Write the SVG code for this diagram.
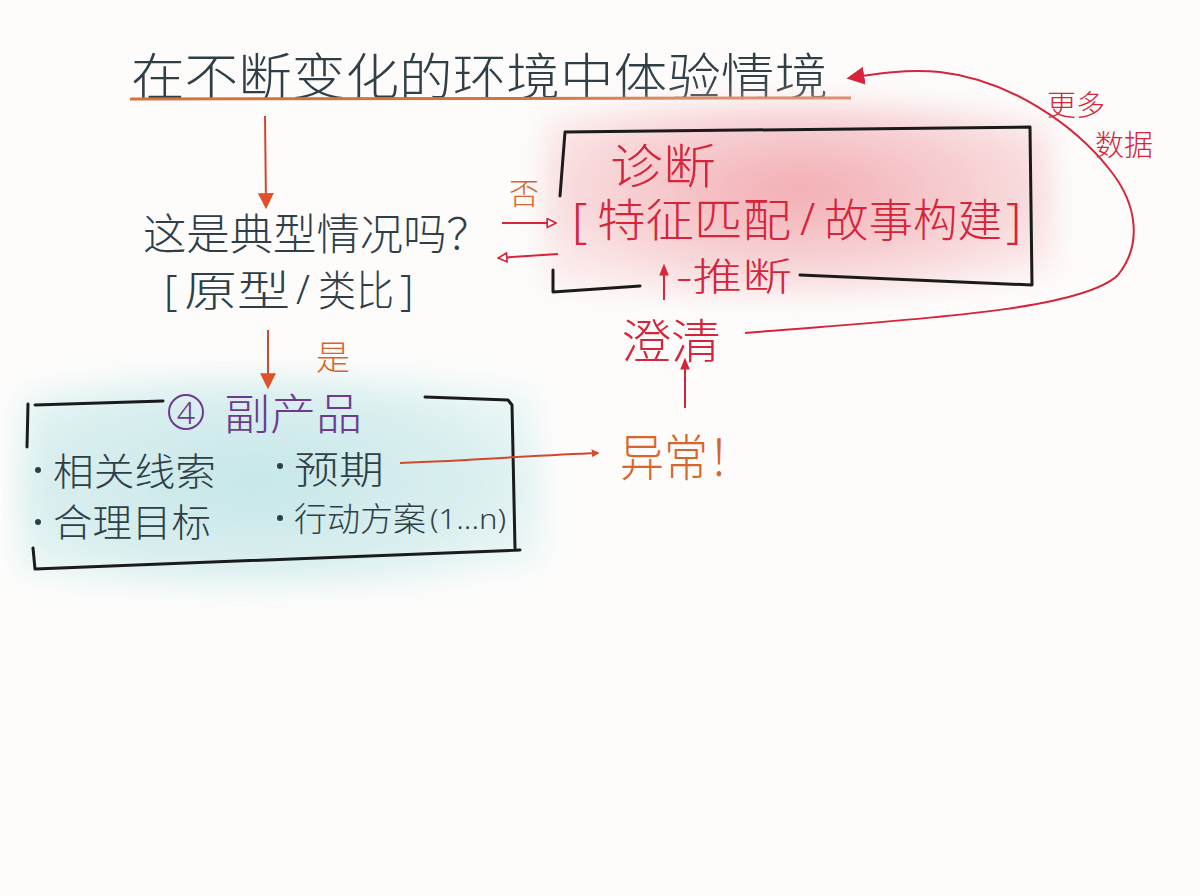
<svg xmlns="http://www.w3.org/2000/svg" width="1200" height="896" viewBox="0 0 1200 896">
<defs>
<style>
.t{font-family:"Noto Sans CJK SC","Noto Sans",sans-serif;font-weight:300}
.b{font-family:"Noto Sans","Liberation Sans",sans-serif;font-weight:300}
.slate{fill:#2e3f47}
.red{fill:#d6243a}
.org{fill:#d8652c}
.pur{fill:#6c3b90}
.ink{fill:none;stroke:#1b1b1b;stroke-width:3;stroke-linecap:round;stroke-linejoin:round}
.ar{fill:none;stroke:#d2482f;stroke-width:2}
.arr{fill:none;stroke:#d6243a;stroke-width:2}
</style>
<marker id="mh" viewBox="0 0 10 10" refX="8" refY="5" markerWidth="8" markerHeight="8" orient="auto" markerUnits="userSpaceOnUse">
<path d="M0,0 L10,5 L0,10 z" fill="#d84a2a"/>
</marker>
<marker id="mbig" viewBox="0 0 10 10" refX="8" refY="5" markerWidth="16" markerHeight="16" orient="auto" markerUnits="userSpaceOnUse">
<path d="M0,0 L10,5 L0,10 z" fill="#e0512a"/>
</marker>
<marker id="mred" viewBox="0 0 10 10" refX="8" refY="5" markerWidth="12" markerHeight="12" orient="auto" markerUnits="userSpaceOnUse">
<path d="M0,1 L10,5 L0,9 z" fill="#d6243a"/>
</marker>
<marker id="mopen" viewBox="0 0 10 10" refX="9" refY="5" markerWidth="11" markerHeight="11" orient="auto" markerUnits="userSpaceOnUse">
<path d="M1,1 L9,5 L1,9 z" fill="#fff" stroke="#d6243a" stroke-width="1.5"/>
</marker>
<marker id="mbig2" viewBox="0 0 10 10" refX="8" refY="5" markerWidth="18" markerHeight="18" orient="auto" markerUnits="userSpaceOnUse">
<path d="M0,0 L10,5 L0,10 z" fill="#d6243a"/>
</marker>
<filter id="blur" x="-20%" y="-20%" width="140%" height="140%"><feGaussianBlur stdDeviation="14"/></filter>
<radialGradient id="pink" cx="0.5" cy="0.45" r="0.6">
<stop offset="0" stop-color="#f2a4ab"/><stop offset="0.6" stop-color="#f7cdd0"/><stop offset="1" stop-color="#fbe9ea"/>
</radialGradient>
<radialGradient id="teal" cx="0.45" cy="0.5" r="0.6">
<stop offset="0" stop-color="#c4e6e8"/><stop offset="0.7" stop-color="#d9efef"/><stop offset="1" stop-color="#eaf6f6"/>
</radialGradient>
</defs>
<rect width="1200" height="896" fill="#fdfcfb"/>

<g id="title">
<text class="t slate" x="131" y="95" font-size="50" textLength="697" lengthAdjust="spacingAndGlyphs">在不断变化的环境中体验情境</text>
<path d="M130,99 L851,98" stroke="#d5733f" stroke-width="3" fill="none"/>
</g>

<g id="question">
<text class="t slate" x="143" y="250" font-size="43" textLength="347" lengthAdjust="spacingAndGlyphs">这是典型情况吗？</text>
<text class="b slate" x="164" y="305" font-size="42">[</text>
<text class="t slate" x="184" y="306" font-size="42" textLength="106" lengthAdjust="spacingAndGlyphs">原型</text>
<text class="b slate" x="296" y="304" font-size="40">/</text>
<text class="t slate" x="318" y="306" font-size="42" textLength="76" lengthAdjust="spacingAndGlyphs">类比</text>
<text class="b slate" x="400" y="305" font-size="42">]</text>
</g>

<g id="byproduct">
<path d="M20,395 C120,370 420,372 535,392 L545,560 C400,595 120,590 18,572 Z" fill="url(#teal)" filter="url(#blur)" opacity="0.95"/>
<path class="ink" d="M163,401 L35,405 M28,404 L27,447 M425,397 L508,400 L512,405 L515,548 M33,548 L35,569 L520,550"/>
<circle cx="186" cy="412" r="17" fill="none" stroke="#6c3b90" stroke-width="2"/>
<text class="b pur" x="186" y="424" font-size="32" text-anchor="middle">4</text>
<text class="t pur" x="224" y="430" font-size="43" textLength="138" lengthAdjust="spacingAndGlyphs">副产品</text>
<circle cx="38" cy="470" r="3" fill="#2e3f47"/>
<text class="t slate" x="53" y="485" font-size="38" textLength="163" lengthAdjust="spacingAndGlyphs">相关线索</text>
<circle cx="280" cy="466" r="3" fill="#2e3f47"/>
<text class="t slate" x="294" y="483" font-size="38" textLength="90" lengthAdjust="spacingAndGlyphs">预期</text>
<circle cx="38" cy="522" r="3" fill="#2e3f47"/>
<text class="t slate" x="53" y="536" font-size="38" textLength="158" lengthAdjust="spacingAndGlyphs">合理目标</text>
<circle cx="280" cy="518" r="3" fill="#2e3f47"/>
<text class="t slate" x="294" y="531" font-size="33" textLength="132" lengthAdjust="spacingAndGlyphs">行动方案</text>
<text class="b slate" x="430" y="529" font-size="28" textLength="76" lengthAdjust="spacingAndGlyphs">(1...n)</text>
</g>

<g id="diagnosis">
<path d="M545,120 C700,95 950,100 1050,125 L1055,270 C900,300 700,300 545,285 Z" fill="url(#pink)" filter="url(#blur)" opacity="0.9"/>
<path class="ink" d="M565,132 L1030,127 L1032,285 L800,275 M640,286 L553,292 L553,270 M565,132 L560,196"/>
<text class="t red" x="610" y="183" font-size="47" textLength="106" lengthAdjust="spacingAndGlyphs">诊断</text>
<text class="b red" x="572" y="237" font-size="48">[</text>
<text class="t red" x="597" y="237" font-size="45" textLength="194" lengthAdjust="spacingAndGlyphs">特征匹配</text>
<text class="b red" x="800" y="235" font-size="44">/</text>
<text class="t red" x="824" y="237" font-size="45" textLength="178" lengthAdjust="spacingAndGlyphs">故事构建</text>
<text class="b red" x="1006" y="237" font-size="48">]</text>
<text class="t red" x="676" y="290" font-size="38" textLength="116" lengthAdjust="spacingAndGlyphs">-推断</text>
</g>

<g id="no"><text class="t org" x="509" y="204" font-size="30">否</text></g>
<g id="yes"><text class="t org" x="316" y="370" font-size="34">是</text></g>

<g id="clarify"><text class="t red" x="621" y="358" font-size="47" textLength="100" lengthAdjust="spacingAndGlyphs">澄清</text></g>
<g id="anomaly"><text class="t org" x="620" y="476" font-size="50" textLength="132" lengthAdjust="spacingAndGlyphs">异常！</text></g>

<g id="moredata">
<text class="t red" x="1047" y="116" font-size="29">更多</text>
<text class="t red" x="1095" y="156" font-size="29">数据</text>
</g>

<g id="connectors">
<path d="M265,116 L266,206" class="ar" marker-end="url(#mbig)"/>
<path d="M268,330 L268,386" class="ar" marker-end="url(#mbig)"/>
<path d="M400,463 C480,460 540,455 598,453" class="ar" marker-end="url(#mh)"/>
<path d="M685,408 L685,360" class="arr" marker-end="url(#mred)"/>
<path d="M664,300 L664,266" class="arr" marker-end="url(#mred)"/>
<path d="M502,223 L556,223" class="arr" marker-end="url(#mopen)"/>
<path d="M558,254 L498,258" class="arr" marker-end="url(#mopen)"/>
<path d="M745,333 C900,320 1080,312 1118,275 C1142,245 1138,205 1110,170 C1075,125 1010,80 940,72 C905,69 875,74 850,78" class="arr" marker-end="url(#mbig2)"/>
</g>
</svg>
